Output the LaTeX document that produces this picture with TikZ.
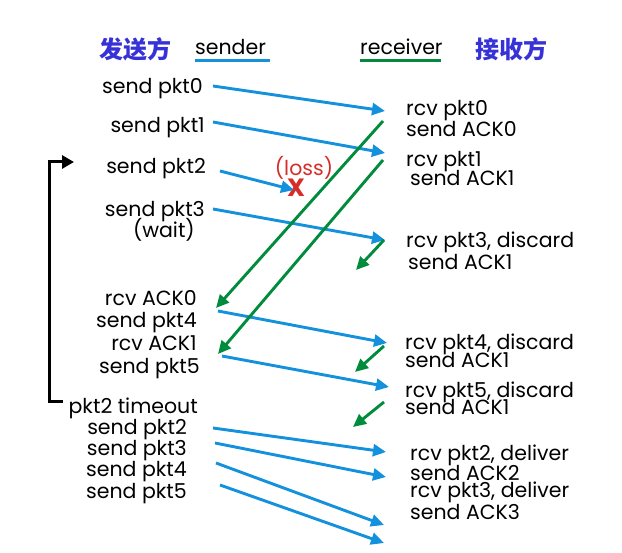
\documentclass[tikz,border=0pt]{standalone}
\usepackage{fontspec}
\setmainfont{Poppins}
\newfontfamily\cjk{Noto Sans CJK SC}
\usetikzlibrary{arrows.meta}
\definecolor{pktblue}{RGB}{20,145,220}
\definecolor{ackgreen}{RGB}{0,140,60}
\definecolor{sideblue}{RGB}{55,50,215}
\definecolor{lossred}{RGB}{215,45,40}

\begin{document}
\begin{tikzpicture}[x=1pt, y=-1pt,
  txt/.style={inner sep=0pt, yshift=-5pt, font=\fontsize{20.5}{22}\selectfont, text height=0.6em, text depth=0.3em},
  snd/.style={txt, anchor=east},
  rcv/.style={txt, anchor=west},
  pkt/.style={draw=pktblue, line width=2.9pt, -{Triangle[length=13pt,width=12pt]}},
  ack/.style={draw=ackgreen, line width=2.9pt, -{Triangle[length=13pt,width=12pt]}},
  side/.style={inner sep=0pt, font=\cjk\bfseries\fontsize{24}{25}\selectfont, text=sideblue}]
  \useasboundingbox (0,0) rectangle (622,553);

  % headings
  \node[side, anchor=west] (sndside) at (99,49) {发送方};
  \node[txt, anchor=west] (sndname) at (195,48) {sender};
  \node[txt, anchor=west] (rcvname) at (360,48) {receiver};
  \node[side, anchor=west] (rcvside) at (475,49) {接收方};
  \draw[pktblue, line width=3pt] (195,61) -- (270,61);
  \draw[ackgreen, line width=3pt] (360,61) -- (441,61);

  % sender side
  \node[snd] (s0) at (203,87) {send pkt0};
  \node[snd] (s1) at (205,126) {send pkt1};
  \node[snd] (s2) at (206,167) {send pkt2};
  \node[snd] (s3) at (205,210) {send pkt3};
  \node[snd] (wait) at (195,231) {(wait)};
  \node[snd] (a0) at (197,299) {rcv ACK0};
  \node[snd] (s4) at (197,321) {send pkt4};
  \node[snd] (a1) at (197,344) {rcv ACK1};
  \node[snd] (s5) at (200,367) {send pkt5};
  \node[snd] (tmo) at (198,407) {pkt2 timeout};
  \node[snd] (rs2) at (187,428) {send pkt2};
  \node[snd] (rs3) at (187,449) {send pkt3};
  \node[snd] (rs4) at (187,470) {send pkt4};
  \node[snd] (rs5) at (187,492) {send pkt5};

  % receiver side
  \node[rcv] (r0) at (406,109) {rcv pkt0};
  \node[rcv] (k0) at (406,130) {send ACK0};
  \node[rcv] (r1) at (406,160) {rcv pkt1};
  \node[rcv] (k1) at (410,179) {send ACK1};
  \node[rcv] (r3) at (406,241) {rcv pkt3, discard};
  \node[rcv] (k3) at (408,263) {send ACK1};
  \node[rcv] (r4) at (405,343) {rcv pkt4, discard};
  \node[rcv] (k4) at (405,361) {send ACK1};
  \node[rcv] (r5) at (405,391) {rcv pkt5, discard};
  \node[rcv] (k5) at (405,408) {send ACK1};
  \node[rcv] (rr2) at (410,454) {rcv pkt2, deliver};
  \node[rcv] (kk2) at (410,474) {send ACK2};
  \node[rcv] (rr3) at (410,491) {rcv pkt3, deliver};
  \node[rcv] (kk3) at (410,513) {send ACK3};

  % loss
  \node[txt, text=lossred] (loss) at (304,169) {(loss)};
  \node[inner sep=0pt, font=\bfseries\fontsize{25}{26}\selectfont, text=lossred] (lost) at (296,188) {X};

  % arrow ends
  \coordinate (p0a) at (213,86);   \coordinate (p0b) at (385,111);
  \coordinate (p1a) at (213,122);  \coordinate (p1b) at (385,153);
  \coordinate (p2a) at (220,171);  \coordinate (p2b) at (294,190);
  \coordinate (p3a) at (213,209);  \coordinate (p3b) at (385,240);
  \coordinate (p4a) at (218,311);  \coordinate (p4b) at (387,343);
  \coordinate (p5a) at (222,356);  \coordinate (p5b) at (389,387);
  \coordinate (q2a) at (213,428);  \coordinate (q2b) at (386,452);
  \coordinate (q3a) at (215,443);  \coordinate (q3b) at (386,477);
  \coordinate (q4a) at (216,463);  \coordinate (q4b) at (384,525);
  \coordinate (q5a) at (220,485);  \coordinate (q5b) at (384,543);
  \coordinate (c0a) at (383,121);  \coordinate (c0b) at (216,308);
  \coordinate (c1a) at (383,160);  \coordinate (c1b) at (218,354);
  \coordinate (c3a) at (384,240);  \coordinate (c3b) at (356,270);
  \coordinate (c4a) at (384,346);  \coordinate (c4b) at (355,372);
  \coordinate (c5a) at (384,402);  \coordinate (c5b) at (353,427);

  % packets
  \draw[pkt] (p0a) -- (p0b);
  \draw[pkt] (p1a) -- (p1b);
  \draw[pkt] (p2a) -- (p2b);
  \draw[pkt] (p3a) -- (p3b);
  \draw[pkt] (p4a) -- (p4b);
  \draw[pkt] (p5a) -- (p5b);
  \draw[pkt] (q2a) -- (q2b);
  \draw[pkt] (q3a) -- (q3b);
  \draw[pkt] (q4a) -- (q4b);
  \draw[pkt] (q5a) -- (q5b);

  % acks
  \draw[ack] (c0a) -- (c0b);
  \draw[ack] (c1a) -- (c1b);
  \draw[ack] (c3a) -- (c3b);
  \draw[ack] (c4a) -- (c4b);
  \draw[ack] (c5a) -- (c5b);

  % timer
  \coordinate (tbot) at (63,402);
  \coordinate (ttop) at (74,162);
  \draw[line width=3pt, -{Triangle[length=12pt,width=13pt]}] (tbot) -| (49,162) -- (ttop);
\end{tikzpicture}
\end{document}
